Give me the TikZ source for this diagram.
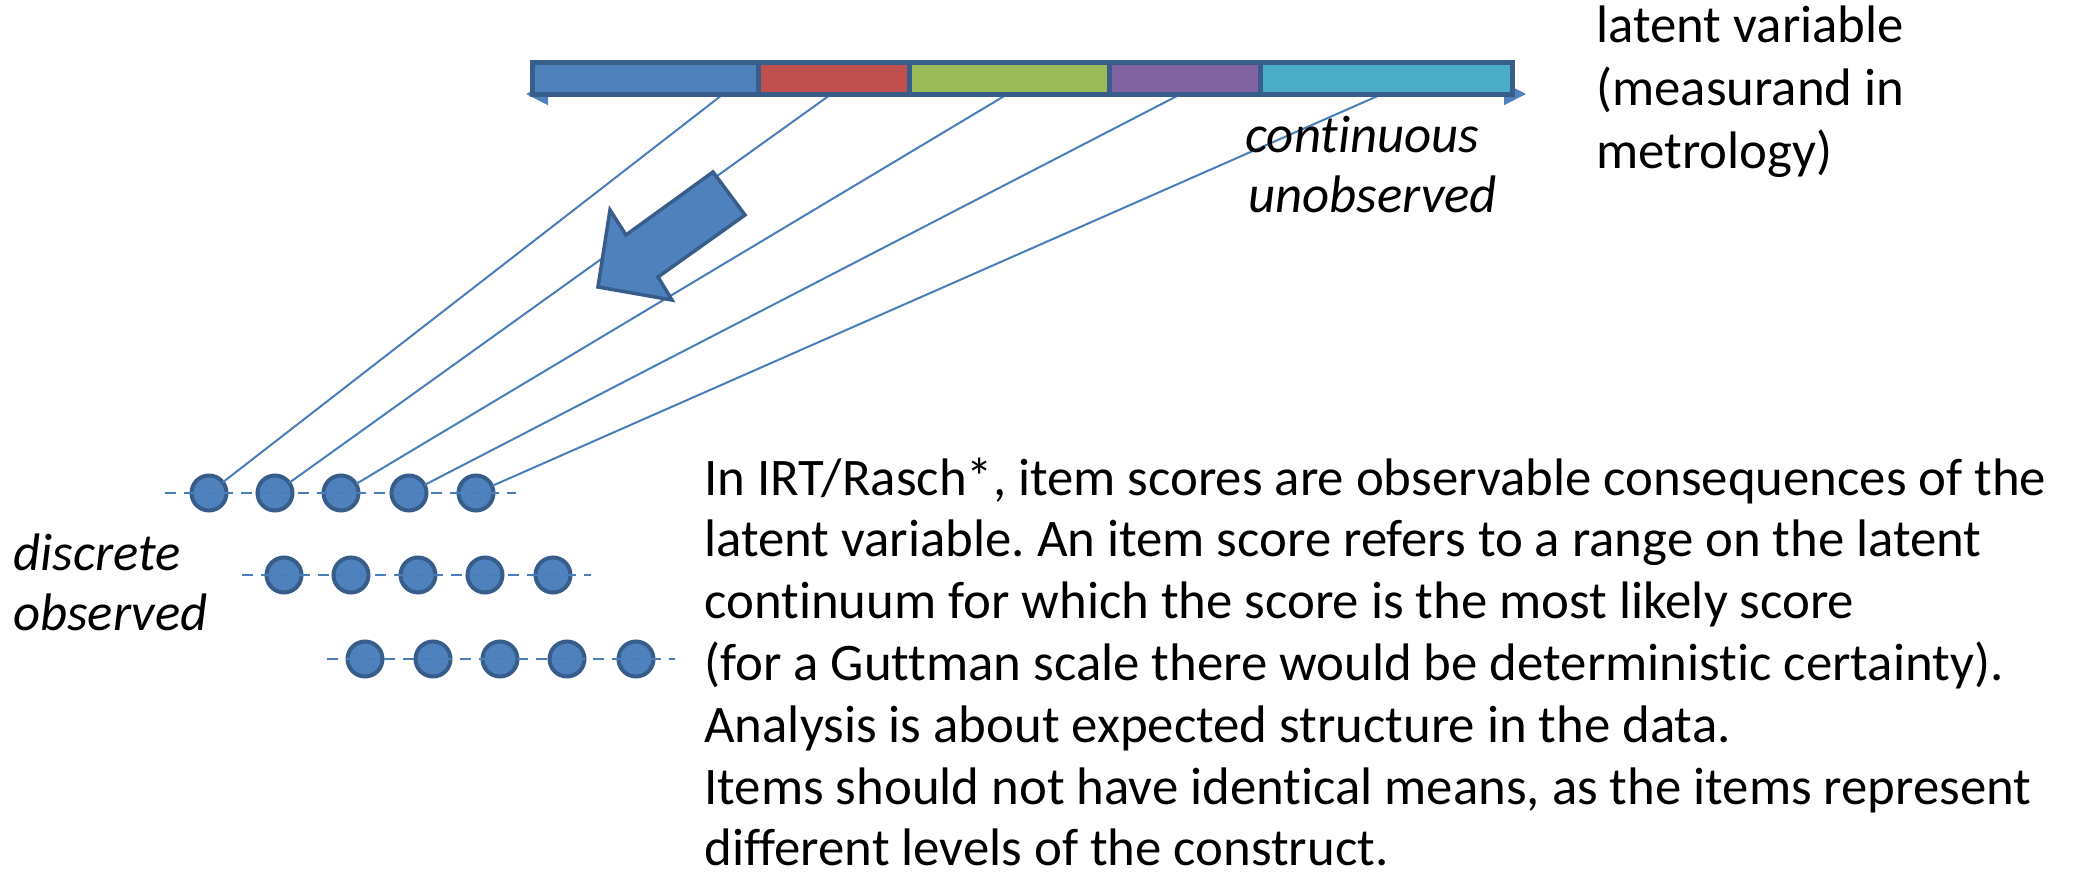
\documentclass[tikz,border=0pt]{standalone}
\usepackage{fontspec}
\setmainfont{Carlito}[Ligatures=CommonOff]
\frenchspacing
\usetikzlibrary{arrows.meta}
\definecolor{accblue}{HTML}{4F81BD}
\definecolor{accdark}{HTML}{385D8A}
\definecolor{accred}{HTML}{C0504D}
\definecolor{accgreen}{HTML}{9BBB59}
\definecolor{accpurple}{HTML}{8064A2}
\definecolor{accaqua}{HTML}{4BACC6}
\definecolor{linkblue}{HTML}{4A7EBB}

\begin{document}
\begin{tikzpicture}[x=0.5pt,y=-0.5pt,
  seg/.style={draw=accdark,line width=2.5pt},
  dot/.style={circle,draw=accdark,fill=accblue,line width=2pt,minimum size=17.5pt,inner sep=0pt,outer sep=0pt},
  link/.style={draw=linkblue,line width=1pt},
  rowline/.style={draw=linkblue,line width=1.3pt,dash pattern=on 5.5pt off 4pt},
  txt/.style={anchor=base west,inner sep=0pt,font=\fontsize{26.4}{30.9}\selectfont},
  itxt/.style={anchor=base west,inner sep=0pt,font=\fontsize{26.4}{30.9}\selectfont\itshape},
  blockarrow/.style={draw=accdark,fill=accblue,line width=1.75pt,line join=miter}]

\useasboundingbox (0,0) rectangle (2074,888);

% observed item scores: three rows of dots
\foreach \x [count=\i] in {209,275,341,409,476} \node[dot] (a\i) at (\x,493) {};
\foreach \x [count=\i] in {284,351,418,485,553} \node[dot] (b\i) at (\x,575) {};
\foreach \x [count=\i] in {365,433,500,567,636} \node[dot] (c\i) at (\x,659) {};

% dashed guide through each row
\coordinate (ra) at (165,493); \coordinate (rb) at (516,493);
\coordinate (sa) at (242,575); \coordinate (sb) at (591,575);
\coordinate (ta) at (327,659); \coordinate (tb) at (675,659);
\draw[rowline] (ra) -- (rb);
\draw[rowline] (sa) -- (sb);
\draw[rowline] (ta) -- (tb);

% points on the latent continuum
\coordinate (p1) at (722,95);
\coordinate (p2) at (830,95);
\coordinate (p3) at (1006,95);
\coordinate (p4) at (1179,95);
\coordinate (p5) at (1380,95);
\foreach \i in {1,...,5} \draw[link] (p\i) -- (a\i);

% axis of the latent variable
\coordinate (axl) at (526,94);
\coordinate (axr) at (1526,94);
\draw[draw=accblue,line width=1pt,{Triangle[length=11pt,width=11pt]}-{Triangle[length=11pt,width=11pt]}] (axl) -- (axr);

% coloured ranges of the latent variable
\draw[seg,fill=accblue]   (532,62.5) rectangle (758,94.5);
\draw[seg,fill=accred]    (758,62.5) rectangle (909,94.5);
\draw[seg,fill=accgreen]  (909,62.5) rectangle (1109,94.5);
\draw[seg,fill=accpurple] (1109,62.5) rectangle (1260,94.5);
\draw[seg,fill=accaqua]   (1260,62.5) rectangle (1512,94.5);

% block arrow from continuum down to the scores
\draw[blockarrow] (713,172) -- (745,215) -- (658,277) -- (672,300) -- (598,287) -- (610,210) -- (626,235) -- cycle;

% labels
\node[txt] (lv1) at (1596,43) {latent variable};
\node[txt] (lv2) at (1596,106) {(measurand in};
\node[txt] (lv3) at (1596,169) {metrology)};

\node[itxt] (cu1) at (1245,153) {continuous};
\node[itxt] (cu2) at (1248,213) {unobserved};

\node[itxt] (do1) at (13,570) {discrete};
\node[itxt] (do2) at (13,630) {observed};

\foreach \t [count=\k from 0] in {
  {In IRT/Rasch*, item scores are observable consequences of the},
  {latent variable. An item score refers to a range on the latent},
  {continuum for which the score is the most likely score},
  {(for a Guttman scale there would be deterministic certainty).},
  {Analysis is about expected structure in the data.},
  {Items should not have identical means, as the items represent},
  {different levels of the construct.}}
  \node[txt] (para\k) at (704,495+61.8*\k) {\t};
\end{tikzpicture}
\end{document}
